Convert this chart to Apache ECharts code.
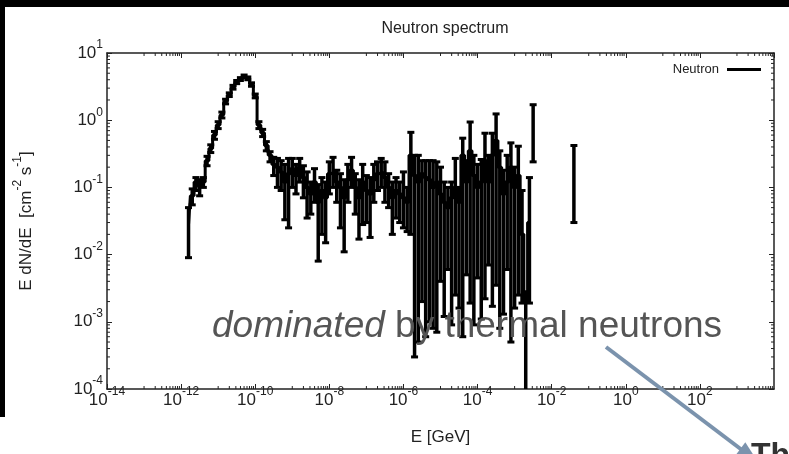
<!DOCTYPE html>
<html>
<head>
<meta charset="utf-8">
<script src="https://cdn.jsdelivr.net/npm/echarts@6/dist/echarts.min.js"></script>
<style>
html, body { margin: 0; padding: 0; background: #fff; }
#chart { width: 789px; height: 454px; }
</style>
</head>
<body>
<div id="chart"></div>
<script>
// bin centres, log10(E / GeV)
const binExp = [
    -11.8, -11.7, -11.6, -11.5, -11.4, -11.3, -11.2, -11.1, -11.0, -10.9,
    -10.8, -10.7, -10.6, -10.5, -10.4, -10.3, -10.2, -10.1, -10.0, -9.9,
    -9.8, -9.7, -9.6, -9.5, -9.4, -9.3, -9.2, -9.1, -9.0, -8.9,
    -8.8, -8.7, -8.6, -8.5, -8.4, -8.3, -8.2, -8.1, -8.0, -7.9,
    -7.8, -7.7, -7.6, -7.5, -7.4, -7.3, -7.2, -7.1, -7.0, -6.9,
    -6.8, -6.7, -6.6, -6.5, -6.4, -6.3, -6.2, -6.1, -6.0, -5.9,
    -5.8, -5.7, -5.6, -5.5, -5.4, -5.3, -5.2, -5.1, -5.0, -4.9,
    -4.8, -4.7, -4.6, -4.5, -4.4, -4.3, -4.2, -4.1, -4.0, -3.9,
    -3.8, -3.7, -3.6, -3.5, -3.4, -3.3, -3.2, -3.1, -3.0, -2.9,
    -2.8, -2.7, -2.6, -2.5, -1.4
];
// E dN/dE  [cm^-2 s^-1]
const flux = [
    0.028, 0.075, 0.12, 0.105, 0.12, 0.25, 0.38, 0.6, 0.85, 1.2,
    1.9, 2.4, 3.1, 3.7, 4.1, 4.5, 4.2, 3.4, 2.3, 0.85,
    0.65, 0.42, 0.3, 0.22, 0.2, 0.17, 0.12, 0.16, 0.19, 0.15,
    0.2, 0.14, 0.1, 0.08, 0.12, 0.06, 0.09, 0.07, 0.16, 0.17,
    0.12, 0.1, 0.07, 0.13, 0.18, 0.1, 0.07, 0.12, 0.09, 0.08,
    0.13, 0.16, 0.17, 0.14, 0.1, 0.07, 0.09, 0.08, 0.07, 0.06,
    0.3, 0.15, 0.12, 0.16, 0.14, 0.13, 0.1, 0.12, 0.08, 0.06,
    0.05, 0.07, 0.1, 0.06, 0.3, 0.12, 0.35, 0.15, 0.1, 0.12,
    0.25, 0.12, 0.3, 0.5, 0.2, 0.08, 0.12, 0.2, 0.1, 0.15,
    0.02, 0.002, 0.03, 0.65, 0.11
];
const fluxLow = [
    0.009, 0.055, 0.09, 0.075, 0.1, 0.21, 0.33, 0.52, 0.75, 1.08,
    1.75, 2.25, 2.9, 3.5, 3.9, 4.3, 4.0, 3.2, 2.15, 0.75,
    0.57, 0.35, 0.24, 0.15, 0.1, 0.09, 0.033, 0.025, 0.1, 0.08,
    0.12, 0.07, 0.035, 0.04, 0.06, 0.008, 0.02, 0.015, 0.08, 0.1,
    0.06, 0.025, 0.011, 0.06, 0.1, 0.04, 0.017, 0.028, 0.03, 0.018,
    0.06, 0.09, 0.1, 0.06, 0.05, 0.02, 0.035, 0.03, 0.025, 0.022,
    0.02, 0.0003, 0.0005, 0.002, 0.0006, 0.001, 0.0008, 0.0007, 0.004, 0.0012,
    0.006, 0.0009, 0.0025, 0.0016, 0.0006, 0.005, 0.0019, 0.0009, 0.0045, 0.0011,
    0.0022, 0.007, 0.0017, 0.0035, 0.0008, 0.0013, 0.006, 0.0005, 0.0016, 0.0025,
    0.0019, 0, 0.0019, 0.24, 0.03
];
const fluxHigh = [
    0.05, 0.095, 0.14, 0.13, 0.14, 0.29, 0.43, 0.68, 0.95, 1.32,
    2.05, 2.55, 3.3, 3.9, 4.3, 4.7, 4.4, 3.6, 2.45, 0.95,
    0.73, 0.48, 0.34, 0.28, 0.27, 0.25, 0.22, 0.27, 0.27, 0.22,
    0.27, 0.21, 0.17, 0.12, 0.19, 0.11, 0.14, 0.12, 0.24, 0.28,
    0.18, 0.16, 0.13, 0.22, 0.28, 0.16, 0.13, 0.22, 0.15, 0.14,
    0.22, 0.24, 0.27, 0.24, 0.16, 0.12, 0.14, 0.12, 0.17, 0.1,
    0.66, 0.3, 0.3, 0.25, 0.25, 0.25, 0.25, 0.24, 0.2, 0.12,
    0.1, 0.12, 0.27, 0.1, 0.54, 0.25, 0.94, 0.3, 0.22, 0.26,
    0.64, 0.3, 0.64, 1.24, 0.35, 0.18, 0.3, 0.46, 0.2, 0.41,
    0.09, 0.0028, 0.14, 1.7, 0.42
];
// the histogram line stops here; the two bins after it stand alone
const stepLastExp = -2.6;

const FONT = 'Liberation Sans';
const INK = '#222';

const energy = binExp.map((e) => Math.pow(10, e));
const lineData = energy
    .map((x, i) => [x, flux[i]])
    .filter((d, i) => binExp[i] <= stepLastExp);
const errData = energy.map((x, i) => [x, Math.max(fluxLow[i], 1e-7), fluxHigh[i]]);

// gnuplot style minor tics
const xMinor = [];
for (let n = -13; n <= 3; n += 2) {
    for (let k = 1; k <= 9; k++) xMinor.push([k * Math.pow(10, n), 1]);
}
const yMinor = [];
for (let n = -4; n <= 0; n++) {
    for (let k = 2; k <= 9; k++) yMinor.push([1, k * Math.pow(10, n)]);
}

const supRich = {
    b: {fontSize: 17, fontFamily: FONT, color: INK, lineHeight: 28, verticalAlign: 'middle'},
    s: {fontSize: 12, fontFamily: FONT, color: INK, lineHeight: 12, verticalAlign: 'top'},
};
const powLabel = (v) => '{b|10}{s|' + Math.round(Math.log10(v)) + '}';
const tickStyle = {stroke: INK, lineWidth: 1};

function minorXTicks(params, api) {
    const cs = params.coordSys;
    const x = api.coord([api.value(0), 1])[0];
    const yb = cs.y + cs.height;
    return {
        type: 'group',
        children: [
            {type: 'line', shape: {x1: x, y1: yb, x2: x, y2: yb - 3}, style: tickStyle},
            {type: 'line', shape: {x1: x, y1: cs.y, x2: x, y2: cs.y + 3}, style: tickStyle},
        ],
    };
}

function minorYTicks(params, api) {
    const cs = params.coordSys;
    const y = api.coord([1, api.value(1)])[1];
    const xr = cs.x + cs.width;
    return {
        type: 'group',
        children: [
            {type: 'line', shape: {x1: cs.x, y1: y, x2: cs.x + 3, y2: y}, style: tickStyle},
            {type: 'line', shape: {x1: xr, y1: y, x2: xr - 3, y2: y}, style: tickStyle},
        ],
    };
}

function errorBar(params, api) {
    const x = api.value(0);
    const lo = api.coord([x, api.value(1)]);
    const hi = api.coord([x, api.value(2)]);
    const bar = {stroke: '#000', lineWidth: 3.5};
    const cap = {stroke: '#000', lineWidth: 3};
    const hw = 3.5;
    return {
        type: 'group',
        children: [
            {type: 'line', shape: {x1: hi[0], y1: hi[1], x2: lo[0], y2: lo[1]}, style: bar},
            {type: 'line', shape: {x1: hi[0] - hw, y1: hi[1], x2: hi[0] + hw, y2: hi[1]}, style: cap},
            {type: 'line', shape: {x1: lo[0] - hw, y1: lo[1], x2: lo[0] + hw, y2: lo[1]}, style: cap},
        ],
    };
}

const axisBase = {
    axisLine: {show: true, lineStyle: {color: INK, width: 1.5}},
    axisTick: {show: true, inside: true, length: 5, lineStyle: {color: INK, width: 1}},
    splitLine: {show: false},
    minorTick: {show: false},
};

const option = {
    backgroundColor: '#fff',
    animation: false,
    title: {
        text: 'Neutron spectrum',
        left: 440,
        top: 16,
        textAlign: 'center',
        textStyle: {fontFamily: FONT, fontSize: 16, fontWeight: 'normal', color: INK},
    },
    legend: {
        data: ['Neutron'],
        right: 23,
        top: 58,
        align: 'right',
        icon: 'rect',
        itemWidth: 34,
        itemHeight: 3,
        textStyle: {fontFamily: FONT, fontSize: 13, color: INK, padding: [0, 3, 0, 0]},
    },
    grid: {left: 107, top: 53, right: 15, bottom: 65, containLabel: false, outerBoundsMode: 'none'},
    xAxis: [
        Object.assign({}, axisBase, {
            type: 'log', min: 1e-14, max: 1e4, interval: 2, position: 'bottom',
            name: 'E [GeV]', nameLocation: 'middle', nameGap: 40,
            nameTextStyle: {fontFamily: FONT, fontSize: 17, color: INK},
            axisLabel: {
                formatter: powLabel, rich: supRich, margin: 11, verticalAlign: 'middle',
                showMinLabel: true, showMaxLabel: false,
            },
        }),
        Object.assign({}, axisBase, {
            type: 'log', min: 1e-14, max: 1e4, interval: 2, position: 'top',
            axisLabel: {show: false},
        }),
    ],
    yAxis: [
        Object.assign({}, axisBase, {
            type: 'log', min: 1e-4, max: 10, position: 'left',
            name: '{b|E dN/dE  [cm}{s|-2}{b| s}{s|-1}{b|]}',
            nameLocation: 'middle', nameGap: 67, nameRotate: 90,
            nameTextStyle: {rich: supRich},
            axisLabel: {formatter: powLabel, rich: supRich, margin: 4},
        }),
        Object.assign({}, axisBase, {
            type: 'log', min: 1e-4, max: 10, position: 'right',
            axisLabel: {show: false},
        }),
    ],
    series: [
        {
            type: 'custom', name: 'xminor', silent: true, z: 1,
            renderItem: minorXTicks, data: xMinor,
        },
        {
            type: 'custom', name: 'yminor', silent: true, z: 1,
            renderItem: minorYTicks, data: yMinor,
        },
        {
            type: 'custom', name: 'errors', silent: true, clip: true, z: 3,
            renderItem: errorBar, data: errData,
        },
        {
            type: 'line', name: 'Neutron', step: 'middle', showSymbol: false,
            clip: true, z: 4,
            lineStyle: {color: '#000', width: 3},
            itemStyle: {color: '#000'},
            data: lineData,
        },
    ],
    graphic: [
        {type: 'rect', shape: {x: 0, y: 0, width: 789, height: 7}, style: {fill: '#000'}, z: 100},
        {type: 'rect', shape: {x: 0, y: 0, width: 5, height: 417}, style: {fill: '#000'}, z: 100},
        {
            type: 'text', x: 212, y: 327, z: 100,
            style: {
                text: '{i|dominated} by thermal neutrons',
                fontFamily: FONT, fontSize: 37, fill: '#555', verticalAlign: 'middle',
                rich: {i: {fontFamily: FONT, fontSize: 37, fontStyle: 'italic', color: '#555'}},
            },
        },
        {
            type: 'line', z: 100,
            shape: {x1: 606, y1: 347, x2: 742, y2: 450},
            style: {stroke: '#7b93ad', lineWidth: 4},
        },
        {
            type: 'polygon', z: 100,
            shape: {points: [[758, 462], [735.7, 455.1], [745.3, 442.3]]},
            style: {fill: '#7b93ad'},
        },
        {
            type: 'text', x: 751, y: 440, z: 100,
            style: {text: 'Th', fontFamily: FONT, fontSize: 32, fontWeight: 'bold', fill: '#333', verticalAlign: 'top'},
        },
    ],
};

const chart = echarts.init(document.getElementById('chart'), null, {renderer: 'canvas'});
chart.setOption(option);
</script>
</body>
</html>
